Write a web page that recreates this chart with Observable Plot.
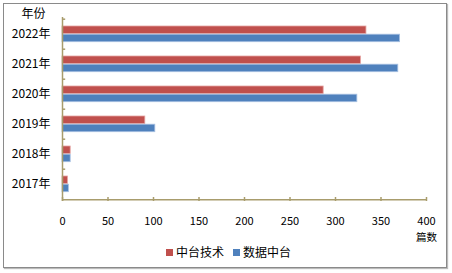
<!DOCTYPE html>
<html><head><meta charset="utf-8">
<script src="https://cdn.jsdelivr.net/npm/d3@7"></script>
<script src="https://cdn.jsdelivr.net/npm/@observablehq/plot@0.6"></script>
<style>
body{margin:0;background:#fff;font-family:"Noto Sans CJK SC","Noto Sans",sans-serif;}
#wrap{position:relative;width:452px;height:273px;}
#frame{position:absolute;left:3px;top:3px;width:444px;height:265px;border:1.5px solid #8a8a8a;box-shadow:1px 1px 1px #bbb;box-sizing:border-box;pointer-events:none;}
#legend{position:absolute;left:166px;top:243px;font-size:12px;color:#000;display:flex;gap:9px;align-items:center;}
#legend span.sw{display:inline-block;width:7px;height:7px;margin-right:3px;vertical-align:middle;position:relative;top:-1px;}
</style>
</head><body>
<div id="wrap"><div id="chart"></div><div id="frame"></div><div id="legend"></div></div>
<script>
const years = ["2022年","2021年","2020年","2019年","2018年","2017年"];
const series = ["中台技术","数据中台"];
const zhongtai = [334, 328, 287, 91, 9, 6];
const shuju = [371, 369, 324, 102, 9, 7];
const xTicks = [0,50,100,150,200,250,300,350,400];
const colors = ["#C0504D","#4F81BD"];

const data = [];
years.forEach((y,i)=>{
  data.push({year:y, series:series[0], value:zhongtai[i]});
  data.push({year:y, series:series[1], value:shuju[i]});
});

const axisColor = "#a89c6c";
const chart = Plot.plot({
  width: 452, height: 273,
  marginLeft: 62, marginRight: 26, marginTop: 17, marginBottom: 72,
  style: {fontFamily: '"Noto Sans CJK SC", sans-serif', fontSize: "12px", color: "#000", background: "transparent"},
  x: {domain: [0,400]},
  y: {domain: years, padding: 0},
  color: {domain: series, range: colors},
  marks: [
    Plot.barX(data.filter(d=>d.series===series[0]), {x:"value", y:"year", fill:"series", insetTop:7, insetBottom:15.5, stroke:"#e5a3a1", strokeWidth:0.8}),
    Plot.barX(data.filter(d=>d.series===series[1]), {x:"value", y:"year", fill:"series", insetTop:15.2, insetBottom:7.3, stroke:"#a7c0e2", strokeWidth:0.8}),
    Plot.ruleY(years, {y: d=>d, x1: 0, x2: 3.5, dy: -15.3, stroke: axisColor, strokeWidth: 1.5}),
    Plot.ruleX([0], {stroke: axisColor, strokeWidth: 1.5}),
    Plot.ruleY(["2017年"], {x1:0, x2:400, dy: 15.3, stroke: axisColor, strokeWidth: 1.5}),
    Plot.axisX({ticks: xTicks, tickSize: -4, stroke: axisColor, strokeWidth: 1.5, tickPadding: 20, fontSize: 11, label: null, color:"#000"}),
    Plot.axisY({tickSize: 0, tickPadding: 12, label: null, fontSize: 12}),
    Plot.text(["年份"], {frameAnchor: "top-left", dx: -41, dy: -8, fontSize: 12, textAnchor:"start"}),
    Plot.text(["篇数"], {frameAnchor: "bottom-right", dx: 0, dy: 39, fontSize: 10.5, textAnchor:"middle"})
  ]
});
document.getElementById("chart").appendChild(chart);

const lg = document.getElementById("legend");
series.forEach((s,i)=>{
  const item = document.createElement("div");
  item.innerHTML = `<span class="sw" style="background:${colors[i]}"></span>${s}`;
  lg.appendChild(item);
});
</script>
</body></html>
